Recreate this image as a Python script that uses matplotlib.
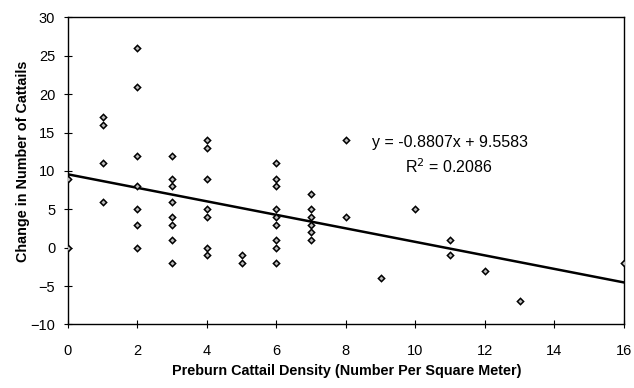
import numpy as np
import matplotlib
matplotlib.use('Agg')
from matplotlib import pyplot as plt

plt.rcParams['font.family'] = ['Liberation Sans', 'DejaVu Sans']

# preburn density (per m2) and change in cattail count
density = [0, 0, 1, 1, 1, 1, 2, 2, 2, 2, 2, 2, 2,
           3, 3, 3, 3, 3, 3, 3, 3,
           4, 4, 4, 4, 4, 4, 4, 5, 5,
           6, 6, 6, 6, 6, 6, 6, 6, 6,
           7, 7, 7, 7, 7, 7, 8, 8, 9, 10, 11, 11, 12, 13, 16]
change = [9, 0, 17, 16, 11, 6, 26, 21, 12, 8, 5, 3, 0,
          12, 9, 8, 6, 4, 3, 1, -2,
          14, 13, 9, 5, 4, 0, -1, -1, -2,
          11, 9, 8, 5, 4, 3, 1, 0, -2,
          7, 5, 4, 3, 2, 1, 14, 4, -4, 5, 1, -1, -3, -7, -2]

slope = -0.8807
intercept = 9.5583
r2 = 0.2086

fig = plt.figure(figsize=(6.34, 3.88), dpi=100)
ax = fig.add_axes([0.107, 0.164, 0.877, 0.791])

ax.plot(density, change, 'D', markersize=3.2, markerfacecolor='#bbbbbb',
        markeredgecolor='black', markeredgewidth=1.1, zorder=3)

xl = np.array([0, 16])
ax.plot(xl, slope * xl + intercept, color='black', linewidth=1.8)

ax.text(10.99, 13.75, 'y = -0.8807x + 9.5583', fontsize=11.5,
        ha='center', va='center')
ax.text(10.96, 10.5, 'R$^2$ = %.4f' % r2, fontsize=11.5,
        ha='center', va='center')

ax.set_xlim(0, 16)
ax.set_ylim(-10, 30)
ax.set_xticks(range(0, 17, 2))
ax.set_yticks(range(-10, 31, 5))
ax.tick_params(direction='inout', length=6, width=0.8, labelsize=10.5)
ax.tick_params(axis='x', pad=11)
ax.tick_params(axis='y', pad=6)
for s in ax.spines.values():
    s.set_linewidth(1.0)

ax.set_xlabel('Preburn Cattail Density (Number Per Square Meter)',
              fontsize=10.4, fontweight='bold')
ax.set_ylabel('Change in Number of Cattails', fontsize=10.4, fontweight='bold')
ax.xaxis.set_label_coords(0.502, -0.128)
ax.yaxis.set_label_coords(-0.068, 0.53)

fig.savefig('out.png', dpi=100)
